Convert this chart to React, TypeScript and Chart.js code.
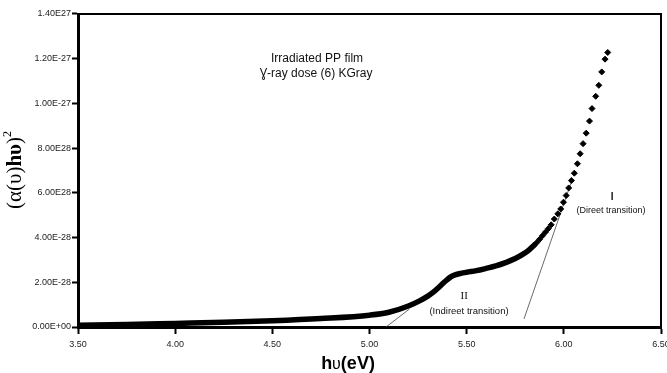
import { useEffect, useRef } from 'react';
import { Chart, registerables } from 'chart.js';

Chart.register(...registerables);

const xTickLabels = ['3.50', '4.00', '4.50', '5.00', '5.50', '6.00', '6.50'];
const yTickLabels = ['0.00E+00', '2.00E-28', '4.00E-28', '6.00E28', '8.00E28', '1.00E-27', '1.20E-27', '1.40E27'];

// dense part of the measured curve (photon energy eV, (α hυ)^2 in 1e-27 units)
const curveX = [3.50, 3.75, 4.00, 4.25, 4.50, 4.75, 5.00, 5.10, 5.20, 5.26, 5.30, 5.33, 5.36, 5.38, 5.40, 5.42, 5.44, 5.47, 5.50, 5.55, 5.60, 5.65, 5.70, 5.75, 5.79, 5.82, 5.85];
const curveY = [0.008, 0.011, 0.016, 0.021, 0.028, 0.038, 0.053, 0.066, 0.094, 0.118, 0.138, 0.157, 0.180, 0.197, 0.212, 0.225, 0.233, 0.240, 0.245, 0.252, 0.262, 0.273, 0.288, 0.306, 0.326, 0.344, 0.368];

// separated measured points at the high-energy end
const pointsX = [5.86, 5.875, 5.89, 5.905, 5.92, 5.935, 5.951, 5.969, 5.984, 5.998, 6.012, 6.025, 6.039, 6.054, 6.070, 6.084, 6.099, 6.115, 6.132, 6.145, 6.164, 6.180, 6.195, 6.212, 6.226];
const pointsY = [0.377, 0.392, 0.408, 0.424, 0.440, 0.457, 0.483, 0.506, 0.528, 0.558, 0.588, 0.622, 0.655, 0.688, 0.730, 0.775, 0.820, 0.867, 0.921, 0.977, 1.032, 1.081, 1.141, 1.198, 1.228];

// tangent (extrapolation) lines
const tangentIX = [5.795, 6.042];
const tangentIY = [0.036, 0.657];
const tangentIIX = [5.085, 5.205];
const tangentIIY = [0.0, 0.08];

const notes = [
  { text: 'Irradiated PP film', x: 4.730, y: 1.199, font: '12px "Liberation Sans", Arial, sans-serif' },
  { text: 'Ɣ-ray dose (6) KGray', x: 4.725, y: 1.134, font: '12px "Liberation Sans", Arial, sans-serif' },
  { text: 'I', x: 6.248, y: 0.581, font: 'bold 10px "Liberation Sans", Arial, sans-serif' },
  { text: '(Direet transition)', x: 6.243, y: 0.519, font: '9px "Liberation Sans", Arial, sans-serif' },
  { text: 'II', x: 5.487, y: 0.139, font: '11px "Liberation Serif", serif' },
  { text: '(Indireet transition)', x: 5.512, y: 0.072, font: '9.5px "Liberation Sans", Arial, sans-serif' },
];

const zip = (xs: number[], ys: number[]) => xs.map((x, i) => ({ x, y: ys[i] }));

const SANS = '"Liberation Sans", Arial, sans-serif';
const SERIF = '"Liberation Serif", "Times New Roman", serif';

const decorPlugin = {
  id: 'decor',
  afterDraw(chart: any) {
    const { ctx, chartArea, scales } = chart;
    const xs = scales.x;
    const ys = scales.y;
    ctx.save();
    // top and right frame
    ctx.strokeStyle = '#000';
    ctx.lineWidth = 2;
    ctx.beginPath();
    ctx.moveTo(chartArea.left, chartArea.top);
    ctx.lineTo(chartArea.right, chartArea.top);
    ctx.lineTo(chartArea.right, chartArea.bottom);
    ctx.stroke();

    // annotations
    ctx.fillStyle = '#111';
    ctx.textAlign = 'center';
    ctx.textBaseline = 'middle';
    for (const n of notes) {
      ctx.font = n.font;
      ctx.fillText(n.text, xs.getPixelForValue(n.x), ys.getPixelForValue(n.y));
    }

    // x title: hυ(eV)
    const xParts = [
      { t: 'h', f: `bold 18px ${SANS}` },
      { t: 'υ', f: `16px ${SANS}` },
      { t: '(eV)', f: `bold 18px ${SANS}` },
    ];
    ctx.textAlign = 'left';
    ctx.textBaseline = 'alphabetic';
    let total = 0;
    for (const p of xParts) { ctx.font = p.f; total += ctx.measureText(p.t).width; }
    let cx = 348 - total / 2;
    ctx.fillStyle = '#000';
    for (const p of xParts) { ctx.font = p.f; ctx.fillText(p.t, cx, 369); cx += ctx.measureText(p.t).width; }

    // y title: (α(υ)hυ)^2
    ctx.translate(15, 170);
    ctx.rotate(-Math.PI / 2);
    const yParts = [
      { t: '(α(υ)', f: `21px ${SERIF}`, dy: 0 },
      { t: 'hυ', f: `bold 21px ${SERIF}`, dy: 0 },
      { t: ')', f: `21px ${SERIF}`, dy: 0 },
      { t: '2', f: `12px ${SERIF}`, dy: -10 },
    ];
    total = 0;
    for (const p of yParts) { ctx.font = p.f; total += ctx.measureText(p.t).width; }
    cx = -total / 2;
    for (const p of yParts) { ctx.font = p.f; ctx.fillText(p.t, cx, 6 + p.dy); cx += ctx.measureText(p.t).width; }
    ctx.restore();
  },
};

export default function App() {
  const ref = useRef<HTMLCanvasElement>(null);
  useEffect(() => {
    document.body.style.margin = '0';
    const canvas = ref.current;
    if (!canvas) return;
    const chart = new Chart(canvas, {
      type: 'scatter',
      data: {
        datasets: [
          {
            data: zip(curveX, curveY),
            showLine: true,
            borderColor: '#000',
            borderWidth: 5.5,
            cubicInterpolationMode: 'monotone',
            pointRadius: 0,
            borderCapStyle: 'round',
            borderJoinStyle: 'round',
          },
          {
            data: zip(pointsX, pointsY),
            pointStyle: 'rectRot',
            pointRadius: 3,
            pointBorderWidth: 1,
            backgroundColor: '#000',
            borderColor: '#000',
          },
          {
            data: zip(tangentIX, tangentIY),
            showLine: true,
            borderColor: '#444',
            borderWidth: 0.8,
            pointRadius: 0,
          },
          {
            data: zip(tangentIIX, tangentIIY),
            showLine: true,
            borderColor: '#444',
            borderWidth: 0.8,
            pointRadius: 0,
          },
        ],
      } as any,
      options: {
        animation: false,
        responsive: false,
        layout: { padding: { left: 0, top: 14, right: 6, bottom: 0 } },
        plugins: { legend: { display: false }, tooltip: { enabled: false } },
        scales: {
          x: {
            type: 'linear',
            min: 3.5,
            max: 6.5,
            afterBuildTicks: (axis: any) => {
              axis.ticks = xTickLabels.map((_, i) => ({ value: 3.5 + i * 0.5 }));
            },
            ticks: {
              callback: (_v: any, i: number) => xTickLabels[i],
              color: '#222',
              font: { family: SANS, size: 9 },
              padding: 5,
              maxRotation: 0,
            },
            grid: { drawOnChartArea: false, tickLength: 7, tickWidth: 2, tickColor: '#000' },
            border: { color: '#000', width: 3 },
            afterFit: (axis: any) => {
              axis.height = 46;
              axis.paddingLeft = 0;
              axis.paddingRight = 0;
            },
          },
          y: {
            type: 'linear',
            min: 0,
            max: 1.4,
            afterBuildTicks: (axis: any) => {
              axis.ticks = yTickLabels.map((_, i) => ({ value: i * 0.2 }));
            },
            ticks: {
              callback: (_v: any, i: number) => yTickLabels[i],
              color: '#222',
              font: { family: SANS, size: 9 },
              padding: 1,
            },
            grid: { drawOnChartArea: false, tickLength: 6, tickWidth: 2, tickColor: '#000' },
            border: { color: '#000', width: 3 },
            afterFit: (axis: any) => {
              axis.width = 78;
              axis.paddingTop = 0;
              axis.paddingBottom = 0;
            },
          },
        },
      } as any,
      plugins: [decorPlugin],
    });
    return () => chart.destroy();
  }, []);
  return (
    <div style={{ width: 667, height: 373, background: '#fff' }}>
      <canvas ref={ref} width={667} height={373} style={{ display: 'block' }} />
    </div>
  );
}
